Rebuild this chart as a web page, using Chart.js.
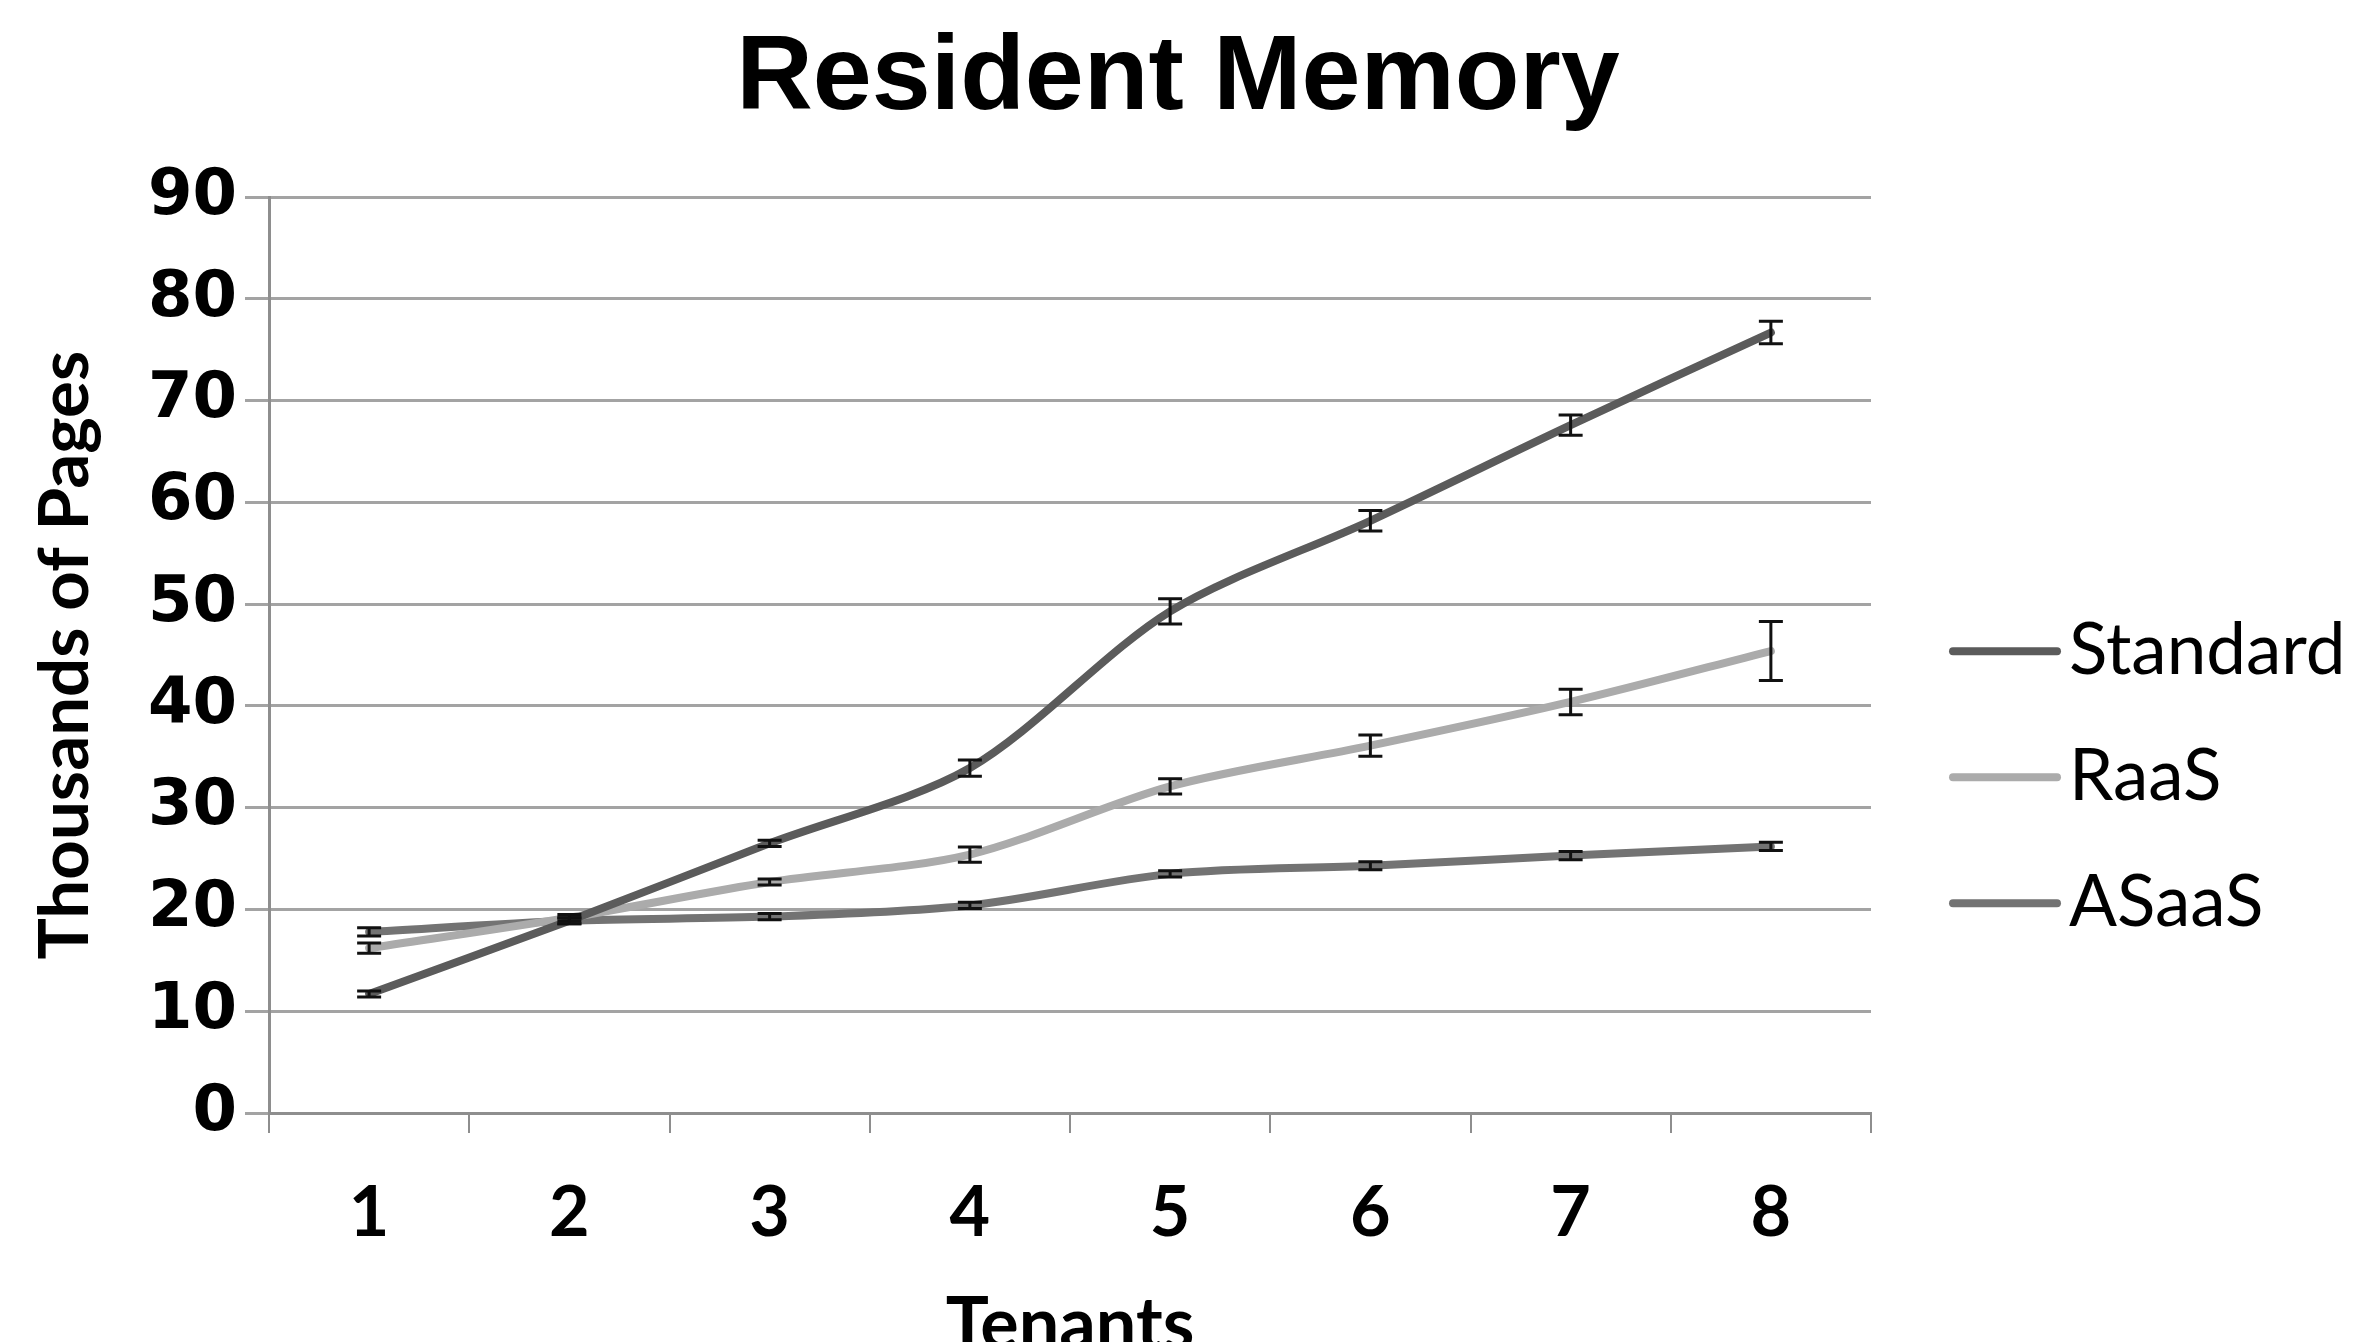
<!DOCTYPE html>
<html>
  <head>
    <meta charset="utf-8">
    <title>Resident Memory</title>
    <script src="https://cdn.jsdelivr.net/npm/chart.js@4.4.0/dist/chart.umd.min.js"></script>
    <style>
      html,
      body {
        margin: 0;
        padding: 0;
        background: #fff;
      }

      .chart {
        width: 2356px;
        height: 1342px;
      }
    </style>
  </head>

  <body>
    <div class="chart">
      <canvas id="myChart" width="2356" height="1342"></canvas>
    </div>

    <script>
      const tenants = ['1', '2', '3', '4', '5', '6', '7', '8'];
      const yTicks = [0, 10, 20, 30, 40, 50, 60, 70, 80, 90];

      // thousands of pages
      const standard = [11.7, 18.9, 26.5, 33.9, 49.3, 58.2, 67.6, 76.7];
      const raas = [16.2, 19.2, 22.7, 25.4, 32.1, 36.1, 40.4, 45.4];
      const asaas = [17.8, 18.9, 19.3, 20.4, 23.5, 24.3, 25.3, 26.2];

      // error bar half-heights
      const standardErr = [0.3, 0.3, 0.3, 0.8, 1.25, 1.0, 1.0, 1.1];
      const raasErr = [0.5, 0.3, 0.3, 0.75, 0.75, 1.05, 1.25, 2.9];
      const asaasErr = [0.4, 0.3, 0.3, 0.3, 0.3, 0.4, 0.4, 0.4];

      const seriesNames = ['Standard', 'RaaS', 'ASaaS'];
      const seriesColors = ['#5b5b5b', '#ababab', '#737373'];

      const gridColor = '#a3a3a3';
      const axisColor = '#8e8e8e';

      const errorBars = {
        id: 'errorBars',
        afterDatasetsDraw(chart) {
          const ctx = chart.ctx;
          const y = chart.scales.y;
          ctx.save();
          ctx.strokeStyle = '#111';
          ctx.lineWidth = 3;
          chart.data.datasets.forEach((ds, i) => {
            const meta = chart.getDatasetMeta(i);
            meta.data.forEach((pt, j) => {
              const hi = y.getPixelForValue(ds.data[j] + ds.err[j]);
              const lo = y.getPixelForValue(ds.data[j] - ds.err[j]);
              ctx.beginPath();
              ctx.moveTo(pt.x, hi);
              ctx.lineTo(pt.x, lo);
              ctx.moveTo(pt.x - 12, hi);
              ctx.lineTo(pt.x + 12, hi);
              ctx.moveTo(pt.x - 12, lo);
              ctx.lineTo(pt.x + 12, lo);
              ctx.stroke();
            });
          });
          ctx.restore();
        }
      };

      // legend like the office one: short line then the name right after it
      const sideLegend = {
        id: 'sideLegend',
        afterDraw(chart) {
          const ctx = chart.ctx;
          const area = chart.chartArea;
          const x0 = area.right + 82;
          const yMid = area.top + 580;
          ctx.save();
          ctx.font = '71px Lato';
          ctx.textBaseline = 'middle';
          ctx.textAlign = 'left';
          chart.data.datasets.forEach((ds, i) => {
            const yy = yMid + (i - 1) * 126;
            ctx.strokeStyle = ds.borderColor;
            ctx.lineWidth = 8;
            ctx.lineCap = 'round';
            ctx.beginPath();
            ctx.moveTo(x0, yy);
            ctx.lineTo(x0 + 104, yy);
            ctx.stroke();
            ctx.fillStyle = '#000';
            ctx.fillText(ds.label, x0 + 116, yy);
          });
          ctx.restore();
        }
      };

      const values = [standard, raas, asaas];
      const errs = [standardErr, raasErr, asaasErr];

      const data = {
        labels: tenants,
        datasets: seriesNames.map((name, i) => ({
          label: name,
          data: values[i],
          err: errs[i],
          borderColor: seriesColors[i],
          backgroundColor: seriesColors[i],
          borderWidth: 8,
          pointRadius: 0,
          tension: 0.3,
          borderCapStyle: 'round',
          fill: false
        }))
      };

      const config = {
        type: 'line',
        data,
        plugins: [errorBars, sideLegend],
        options: {
          responsive: false,
          animation: false,
          layout: {
            padding: 0
          },
          scales: {
            x: {
              offset: true,
              afterFit: function (scale) {
                scale.height = 229;
              },
              border: { color: axisColor, width: 3 },
              grid: {
                offset: true,
                drawOnChartArea: false,
                drawTicks: true,
                tickLength: 20,
                color: axisColor,
                lineWidth: 2
              },
              ticks: {
                color: '#000',
                padding: 38,
                font: { family: 'Lato', size: 70, weight: 'bold' }
              },
              title: {
                display: true,
                text: 'Tenants',
                color: '#000',
                padding: 0,
                font: { family: 'Lato', size: 72, weight: 'bold', lineHeight: 0.46 }
              }
            },
            y: {
              min: 0,
              max: 90,
              afterFit: function (scale) {
                scale.width = 269;
              },
              afterBuildTicks: function (scale) {
                scale.ticks = yTicks.map(v => ({ value: v }));
              },
              border: { color: axisColor, width: 3 },
              grid: {
                color: gridColor,
                lineWidth: 3,
                tickLength: 24
              },
              ticks: {
                color: '#000',
                padding: 8,
                font: { family: 'DejaVu Sans', size: 64, weight: 'bold' }
              },
              title: {
                display: true,
                text: 'Thousands of Pages',
                color: '#000',
                padding: { top: 24, bottom: 0 },
                font: { family: 'Lato', size: 69, weight: 'bold' }
              }
            },
            // empty right axis, only keeps room for the legend
            side: {
              type: 'linear',
              position: 'right',
              afterFit: function (scale) {
                scale.width = 485;
              },
              border: { display: false },
              grid: { display: false },
              ticks: { display: false }
            }
          },
          plugins: {
            title: {
              display: true,
              text: 'Resident Memory',
              color: '#000',
              padding: { top: 16, bottom: 54 },
              font: { family: 'Liberation Sans', size: 106, weight: 'bold', lineHeight: 1.2 }
            },
            legend: {
              display: false
            },
            tooltip: {
              enabled: false
            }
          }
        }
      };

      const myChart = new Chart(
        document.getElementById('myChart'),
        config
      );
    </script>
  </body>
</html>
